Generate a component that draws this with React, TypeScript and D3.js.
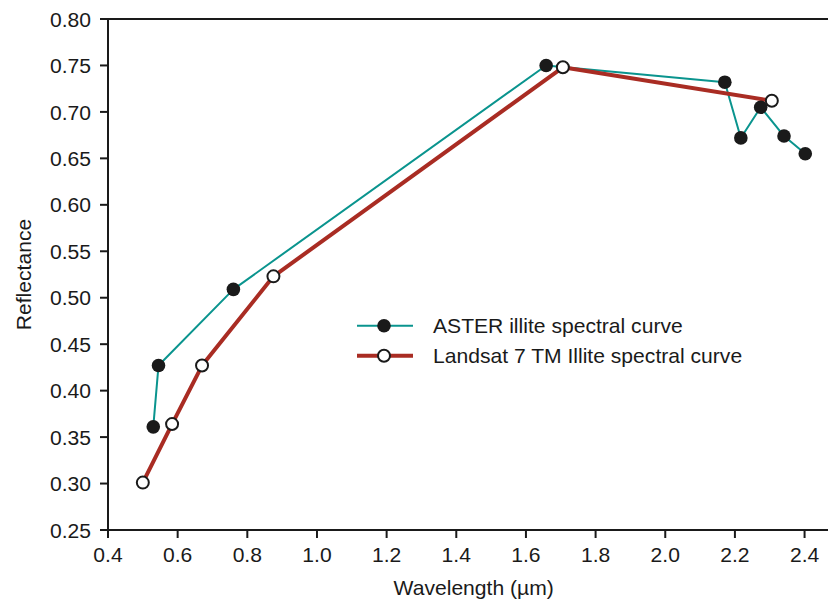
import React from "react";
import * as d3 from "d3";

const asterX = [0.530, 0.545, 0.760, 1.658, 2.171, 2.217, 2.274, 2.341, 2.402];
const asterY = [0.361, 0.427, 0.509, 0.750, 0.732, 0.672, 0.705, 0.674, 0.655];
const landsatX = [0.500, 0.584, 0.670, 0.875, 1.706, 2.306];
const landsatY = [0.301, 0.364, 0.427, 0.523, 0.748, 0.712];
const xTicks = [0.4, 0.6, 0.8, 1.0, 1.2, 1.4, 1.6, 1.8, 2.0, 2.2, 2.4];
const yTicks = [0.25, 0.3, 0.35, 0.4, 0.45, 0.5, 0.55, 0.6, 0.65, 0.7, 0.75, 0.8];
const seriesNames = ["ASTER illite spectral curve", "Landsat 7 TM Illite spectral curve"];

const W = 828;
const H = 601;
const left = 108;
const right = 839.4;
const top = 19;
const bottom = 530;
const font = "'Liberation Sans', Arial, Helvetica, sans-serif";
const fs = 21.1;
const teal = "#0a948e";
const red = "#a92c23";
const ink = "#1a1a1a";

export default function App() {
  const x = d3.scaleLinear().domain([0.4, 2.5]).range([left, right]);
  const y = d3.scaleLinear().domain([0.25, 0.8]).range([bottom, top]);
  const aster = asterX.map((v, i) => [v, asterY[i]] as [number, number]);
  const landsat = landsatX.map((v, i) => [v, landsatY[i]] as [number, number]);
  const line = d3
    .line<[number, number]>()
    .x((d) => x(d[0]))
    .y((d) => y(d[1]));

  const legX = 357;
  const legY1 = 325.7;
  const legY2 = 355.7;

  return (
    <svg
      width={W}
      height={H}
      style={{ position: "absolute", left: 0, top: 0, background: "#fff" }}
      fontFamily={font}
    >
      {/* axes frame */}
      <line x1={left} y1={top} x2={right} y2={top} stroke={ink} strokeWidth={2} />
      <line x1={left} y1={top - 1} x2={left} y2={bottom + 1} stroke={ink} strokeWidth={2} />
      <line x1={left - 1} y1={bottom} x2={right} y2={bottom} stroke={ink} strokeWidth={2} />

      {yTicks.map((t) => (
        <g key={"y" + t}>
          <line x1={left - 8} x2={left} y1={y(t)} y2={y(t)} stroke={ink} strokeWidth={2} />
          <text x={91} y={y(t)} dy="0.36em" textAnchor="end" fontSize={fs} fill={ink}>
            {t.toFixed(2)}
          </text>
        </g>
      ))}
      {xTicks.map((t) => (
        <g key={"x" + t}>
          <line x1={x(t)} x2={x(t)} y1={bottom} y2={bottom + 8} stroke={ink} strokeWidth={2} />
          <text x={x(t)} y={561.5} textAnchor="middle" fontSize={fs} fill={ink}>
            {t.toFixed(1)}
          </text>
        </g>
      ))}

      <text x={(left + right) / 2} y={595} textAnchor="middle" fontSize={fs} fill={ink}>
        Wavelength (µm)
      </text>
      <text
        transform={`translate(31, ${(top + bottom) / 2}) rotate(-90)`}
        textAnchor="middle"
        fontSize={fs}
        fill={ink}
      >
        Reflectance
      </text>

      {/* series lines */}
      <path d={line(aster) || ""} fill="none" stroke={teal} strokeWidth={2} strokeLinejoin="round" />
      <path d={line(landsat) || ""} fill="none" stroke={red} strokeWidth={4} strokeLinejoin="round" />

      {aster.map((d, i) => (
        <circle key={"a" + i} cx={x(d[0])} cy={y(d[1])} r={6.8} fill={ink} />
      ))}
      {landsat.map((d, i) => (
        <circle key={"l" + i} cx={x(d[0])} cy={y(d[1])} r={6} fill="#fff" stroke={ink} strokeWidth={2} />
      ))}

      {/* legend */}
      <line x1={legX} x2={legX + 56} y1={legY1} y2={legY1} stroke={teal} strokeWidth={2} />
      <circle cx={legX + 27} cy={legY1} r={6.8} fill={ink} />
      <text x={433} y={legY1} dy="0.36em" fontSize={fs} fill={ink}>
        {seriesNames[0]}
      </text>
      <line x1={legX} x2={legX + 56} y1={legY2} y2={legY2} stroke={red} strokeWidth={4} />
      <circle cx={legX + 27} cy={legY2} r={6} fill="#fff" stroke={ink} strokeWidth={2} />
      <text x={433} y={legY2} dy="0.36em" fontSize={fs} fill={ink}>
        {seriesNames[1]}
      </text>
    </svg>
  );
}
